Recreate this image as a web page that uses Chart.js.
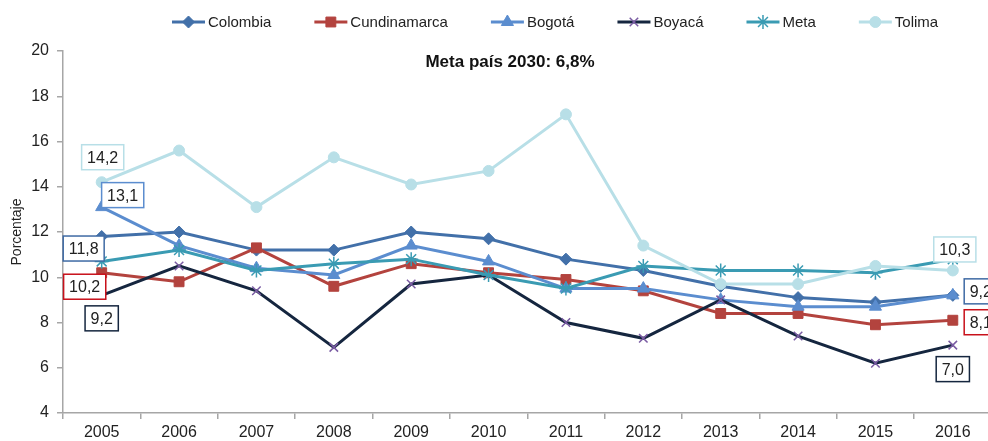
<!DOCTYPE html>
<html lang="es">
<head>
  <meta charset="UTF-8" />
  <title>Porcentaje por departamento 2005-2016</title>
  <script src="https://cdn.jsdelivr.net/npm/chart.js"></script>
  <style>
    html, body { margin: 0; padding: 0; background: #fff; overflow: hidden; }
    #wrap { width: 988px; height: 441px; position: relative; overflow: hidden; }
  </style>
</head>
<body>
  <!-- canvas runs a little past the right edge so the last year column is cut like the printed version -->
  <div id="wrap"><canvas id="chart" width="1000" height="441"></canvas></div>

  <script>
    const years = ['2005','2006','2007','2008','2009','2010','2011','2012','2013','2014','2015','2016'];

    const colombia     = [11.8, 12.0, 11.2, 11.2, 12.0, 11.7, 10.8, 10.3, 9.6, 9.1, 8.9, 9.2];
    const cundinamarca = [10.2, 9.8, 11.3, 9.6, 10.6, 10.2, 9.9, 9.4, 8.4, 8.4, 7.9, 8.1];
    const bogota       = [13.1, 11.4, 10.4, 10.1, 11.4, 10.7, 9.5, 9.5, 9.0, 8.7, 8.7, 9.2];
    const boyaca       = [9.2, 10.5, 9.4, 6.9, 9.7, 10.1, 8.0, 7.3, 9.0, 7.4, 6.2, 7.0];
    const meta         = [10.7, 11.2, 10.3, 10.6, 10.8, 10.1, 9.5, 10.5, 10.3, 10.3, 10.2, 10.8];
    const tolima       = [14.2, 15.6, 13.1, 15.3, 14.1, 14.7, 17.2, 11.4, 9.7, 9.7, 10.5, 10.3];

    const yTicks = [4, 20, 2]; // min, max, step
    const title = 'Meta país 2030: 6,8%';

    const FONT = "'Liberation Sans', Arial, sans-serif";
    const AXIS = '#a6a6a6';

    const series = [
      { label: 'Colombia',     data: colombia,     line: '#4270a9', mark: '#4270a9', style: 'rectRot',  r: 6 },
      { label: 'Cundinamarca', data: cundinamarca, line: '#b3433e', mark: '#b3433e', style: 'rect',     r: 7 },
      { label: 'Bogotá',       data: bogota,       line: '#5b8dcf', mark: '#5b8dcf', style: 'triangle', r: 7 },
      { label: 'Boyacá',       data: boyaca,       line: '#15263f', mark: '#7a5ba3', style: 'crossRot', r: 6 },
      { label: 'Meta',         data: meta,         line: '#3a9bb3', mark: '#3a9bb3', style: 'star',     r: 7 },
      { label: 'Tolima',       data: tolima,       line: '#b8dfe7', mark: '#b8dfe7', style: 'circle',   r: 5.5 }
    ];

    // value boxes: dataset, point index, offset of the box centre from the point
    const boxes = [
      { ds: 5, i: 0,  dx: 1,   dy: -25, border: '#b8dfe7' },
      { ds: 2, i: 0,  dx: 21,  dy: -12, border: '#5b8dcf' },
      { ds: 0, i: 0,  dx: -18, dy: 12,  border: '#3f6aa4' },
      { ds: 1, i: 0,  dx: -17, dy: 14,  border: '#c8101a' },
      { ds: 3, i: 0,  dx: 0,   dy: 23,  border: '#15263f' },
      { ds: 5, i: 11, dx: 2,   dy: -21, border: '#b8dfe7' },
      { ds: 0, i: 11, dx: 28,  dy: -4,  border: '#3f6aa4' },
      { ds: 1, i: 11, dx: 28,  dy: 2,   border: '#c8101a' },
      { ds: 3, i: 11, dx: 0,   dy: 24,  border: '#15263f' }
    ];

    const fmt = v => v.toFixed(1).replace('.', ',');

    const legendPlugin = {
      id: 'lineLegend',
      afterDraw(chart) {
        const ctx = chart.ctx;
        const y = 22;
        let x = 172;
        ctx.save();
        ctx.font = '15px ' + FONT;
        ctx.textBaseline = 'middle';
        series.forEach(s => {
          ctx.strokeStyle = s.line;
          ctx.lineWidth = 3;
          ctx.beginPath();
          ctx.moveTo(x, y);
          ctx.lineTo(x + 33, y);
          ctx.stroke();
          const bw = (s.style === 'crossRot' || s.style === 'star') ? 1.5 : 1;
          ctx.fillStyle = s.mark;
          ctx.strokeStyle = s.mark;
          ctx.lineWidth = bw;
          Chart.helpers.drawPoint(ctx, { pointStyle: s.style, radius: s.r, rotation: 0, borderWidth: bw }, x + 16.5, y);
          ctx.fillStyle = '#222';
          ctx.fillText(s.label, x + 36, y + 1);
          x += 36 + ctx.measureText(s.label).width + 43;
        });
        ctx.restore();
      }
    };

    const labelPlugin = {
      id: 'valueBoxes',
      afterDatasetsDraw(chart) {
        const ctx = chart.ctx;
        ctx.save();
        ctx.font = '16px ' + FONT;
        ctx.textAlign = 'center';
        ctx.textBaseline = 'middle';
        boxes.forEach(b => {
          const pt = chart.getDatasetMeta(b.ds).data[b.i];
          const text = fmt(series[b.ds].data[b.i]);
          const w = ctx.measureText(text).width + 11;
          const h = 25;
          const cx = pt.x + b.dx, cy = pt.y + b.dy;
          ctx.fillStyle = '#fff';
          ctx.fillRect(cx - w / 2, cy - h / 2, w, h);
          ctx.strokeStyle = b.border;
          ctx.lineWidth = 1.5;
          ctx.strokeRect(cx - w / 2, cy - h / 2, w, h);
          ctx.fillStyle = '#222';
          ctx.fillText(text, cx, cy + 1);
        });
        // title inside the plot area
        ctx.font = 'bold 17px ' + FONT;
        ctx.fillStyle = '#111';
        ctx.fillText(title, 510, 62);
        ctx.restore();
      }
    };

    new Chart(document.getElementById('chart'), {
      type: 'line',
      data: {
        labels: years,
        datasets: series.map((s, k) => ({
          label: s.label,
          data: s.data,
          order: series.length - k,
          borderColor: s.line,
          backgroundColor: s.mark,
          borderWidth: 3,
          tension: 0,
          pointStyle: s.style,
          pointRadius: s.r,
          pointHoverRadius: s.r,
          pointBackgroundColor: s.mark,
          pointBorderColor: s.mark,
          pointBorderWidth: (s.style === 'crossRot' || s.style === 'star') ? 1.5 : 1
        }))
      },
      options: {
        responsive: false,
        animation: false,
        devicePixelRatio: 1,
        layout: { padding: { top: 51, right: 0, left: 0, bottom: 0 } },
        plugins: {
          legend: { display: false },
          tooltip: { enabled: false }
        },
        scales: {
          x: {
            offset: true,
            grid: { offset: true, drawOnChartArea: false, drawTicks: true, tickLength: 6, color: AXIS, lineWidth: 1.5 },
            border: { display: true, color: AXIS, width: 1.5 },
            ticks: { color: '#222', font: { size: 16, family: FONT }, padding: 4, maxRotation: 0, autoSkip: false },
            afterFit(scale) { scale.height = 28; }
          },
          y: {
            min: yTicks[0],
            max: yTicks[1],
            grid: { drawOnChartArea: false, drawTicks: true, tickLength: 6, color: AXIS, lineWidth: 1.5 },
            border: { display: true, color: AXIS, width: 1.5 },
            ticks: { stepSize: yTicks[2], color: '#222', font: { size: 16, family: FONT }, padding: 8 },
            title: { display: true, text: 'Porcentaje', color: '#222', font: { size: 14, family: FONT }, padding: { top: 9, bottom: 0 } },
            afterFit(scale) { scale.width = 63; }
          }
        }
      },
      plugins: [legendPlugin, labelPlugin]
    });
  </script>
</body>
</html>
